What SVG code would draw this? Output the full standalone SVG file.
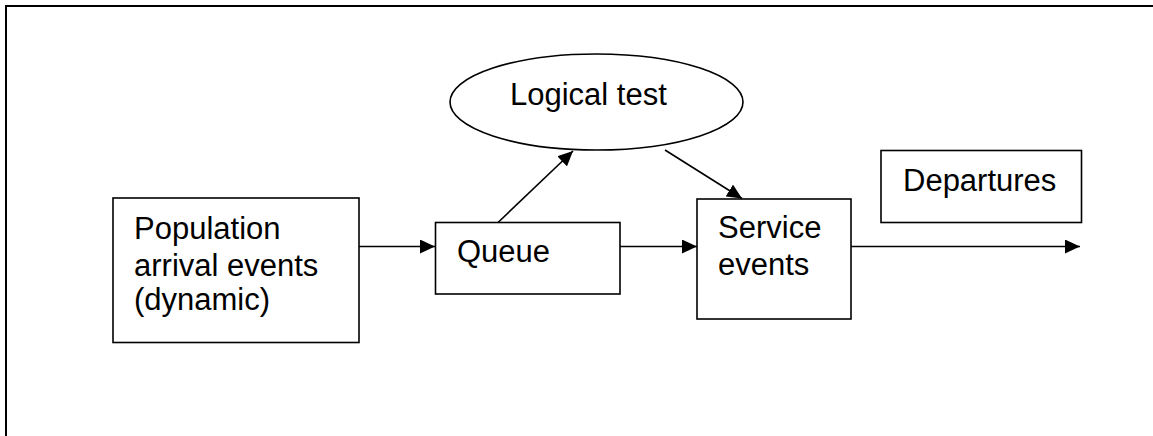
<svg xmlns="http://www.w3.org/2000/svg" width="1153" height="436" viewBox="0 0 1153 436">
  <style>
    .box { fill: #ffffff; stroke: #000000; stroke-width: 1.6; }
    .lbl { font-family: "Liberation Sans", Arial, sans-serif; font-size: 31px; fill: #000000; }
    .edge { fill: none; stroke: #000000; stroke-width: 1.6; marker-end: url(#head); }
  </style>
  <defs>
    <marker id="head" markerUnits="userSpaceOnUse" markerWidth="16" markerHeight="14" refX="15" refY="7" orient="auto">
      <path d="M0,0 L15,7 L0,14 z" fill="#000000"/>
    </marker>
  </defs>

  <rect width="1153" height="436" fill="#ffffff"/>
  <!-- outer frame, running past the right and bottom edges -->
  <path d="M6,445 V6 H1160" fill="none" stroke="#000000" stroke-width="2"/>

  <g id="connectors">
    <line class="edge" x1="359" y1="246.5" x2="435" y2="246.5"/>
    <line class="edge" x1="620" y1="246.5" x2="697" y2="246.5"/>
    <line class="edge" x1="498" y1="222.5" x2="573" y2="151"/>
    <line class="edge" x1="665" y1="150" x2="742" y2="198.5"/>
    <line class="edge" x1="851" y1="246.5" x2="1080" y2="246.5"/>
  </g>

  <g id="population">
    <rect class="box" x="113" y="198" width="246" height="144.5"/>
    <text class="lbl" x="134" y="239">Population</text>
    <text class="lbl" x="134" y="276">arrival events</text>
    <text class="lbl" x="134" y="310">(dynamic)</text>
  </g>

  <g id="queue">
    <rect class="box" x="435.5" y="222.5" width="184.5" height="71.5"/>
    <text class="lbl" x="457" y="262">Queue</text>
  </g>

  <g id="logical-test">
    <ellipse class="box" cx="596.5" cy="102" rx="146.5" ry="48"/>
    <text class="lbl" x="510" y="105">Logical test</text>
  </g>

  <g id="service">
    <rect class="box" x="697" y="199" width="154" height="120"/>
    <text class="lbl" x="718" y="238">Service</text>
    <text class="lbl" x="718" y="275">events</text>
  </g>

  <g id="departures">
    <rect class="box" x="881" y="150.5" width="200.5" height="72"/>
    <text class="lbl" x="903" y="191">Departures</text>
  </g>
</svg>
